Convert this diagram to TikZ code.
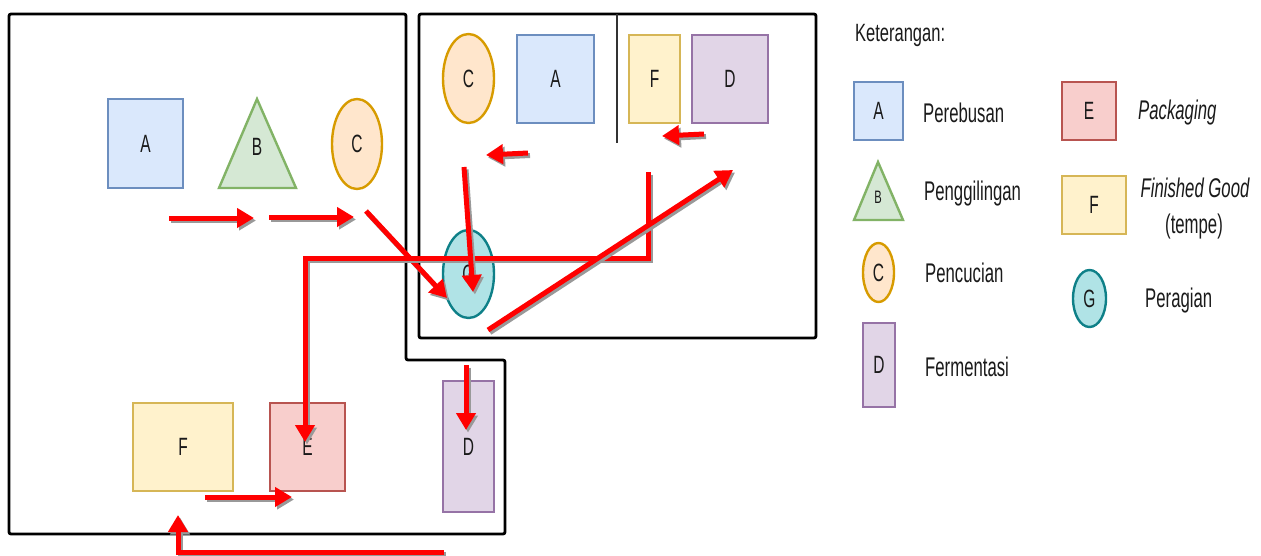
\documentclass[tikz,border=0pt]{standalone}
\usepackage{fontspec}
\setmainfont{Liberation Sans}
\usepackage{graphicx}
\usetikzlibrary{arrows.meta,shapes.geometric}

\definecolor{blueF}{HTML}{DAE8FC}\definecolor{blueD}{HTML}{6C8EBF}
\definecolor{greenF}{HTML}{D5E8D4}\definecolor{greenD}{HTML}{82B366}
\definecolor{orangeF}{HTML}{FFE6CC}\definecolor{orangeD}{HTML}{D79B00}
\definecolor{purpleF}{HTML}{E1D5E7}\definecolor{purpleD}{HTML}{9673A6}
\definecolor{redF}{HTML}{F8CECC}\definecolor{redD}{HTML}{B85450}
\definecolor{yellowF}{HTML}{FFF2CC}\definecolor{yellowD}{HTML}{D6B656}
\definecolor{tealF}{HTML}{B0E3E6}\definecolor{tealD}{HTML}{0E8088}
\definecolor{ink}{HTML}{1A1A1A}

% narrow text, as set in the drawing
\newcommand\nar[1]{\scalebox{0.62}[1]{#1}}
% a red flow arrow with its grey drop shadow
\newcommand\flw[1]{\begin{scope}[transform canvas={shift={(2pt,-2.5pt)}}]\draw[flowshade] #1;\end{scope}\draw[flow] #1;}

\begin{document}
\begin{tikzpicture}[x=1pt,y=-1pt,
  shp/.style={line width=2.4pt, inner sep=0pt, text=ink,
    font=\fontsize{25}{28}\selectfont},
  boxA/.style={shp, rectangle, fill=blueF, draw=blueD},
  boxD/.style={shp, rectangle, fill=purpleF, draw=purpleD},
  boxE/.style={shp, rectangle, fill=redF, draw=redD},
  boxF/.style={shp, rectangle, fill=yellowF, draw=yellowD},
  ovC/.style={shp, ellipse, fill=orangeF, draw=orangeD},
  ovG/.style={shp, ellipse, fill=tealF, draw=tealD},
  triB/.style={line width=2.4pt, fill=greenF, draw=greenD, line join=miter},
  tag/.style={inner sep=0pt, text=ink, font=\fontsize{25}{28}\selectfont},
  legtext/.style={inner sep=0pt, text=ink, font=\fontsize{27}{30}\selectfont},
  wall/.style={draw=black, line width=2.8pt, rounded corners=2pt},
  flow/.style={draw=red, line width=5pt,
    -{Triangle[length=17pt,width=19pt]}},
  flowshade/.style={draw=black!40, line width=5pt,
    -{Triangle[length=17pt,width=19pt]}},
]
\useasboundingbox (0,0) rectangle (1261,555);

% ---------- production areas ----------
\draw[wall] (9,14) -- (406,14) -- (406,360) -- (505,360) -- (505,534) -- (9,534) -- cycle;
\draw[wall] (419,14) rectangle (816,338);
\draw[black!80, line width=1.2pt] (617,14) -- (617,143);

% ---------- left area, upper row ----------
\node[boxA, minimum width=75pt, minimum height=89pt] (a1) at (145.5,143.5) {\nar{A}};
\draw[triB] (257,99) -- (296,188) -- (219,188) -- cycle;
\node[tag] (b1) at (257,147) {\nar{B}};
\node[ovC, minimum width=50pt, minimum height=90pt] (c1) at (357,144) {\nar{C}};

% ---------- right area ----------
\node[ovC, minimum width=51pt, minimum height=89pt] (c2) at (468.5,78.5) {\nar{C}};
\node[boxA, minimum width=77pt, minimum height=88pt] (a2) at (555.5,79) {\nar{A}};
\node[boxF, minimum width=51pt, minimum height=88pt] (f2) at (654.5,79) {\nar{F}};
\node[boxD, minimum width=76pt, minimum height=88pt] (d2) at (730,79) {\nar{D}};
\node[ovG, minimum width=51pt, minimum height=88pt] (g2) at (468.5,274) {\nar{G}};

% ---------- left area, lower row ----------
\node[boxF, minimum width=100pt, minimum height=88pt] (f3) at (183,447) {\nar{F}};
\node[boxE, minimum width=75pt, minimum height=88pt] (e3) at (307.5,447) {\nar{E}};
\node[boxD, minimum width=51pt, minimum height=131pt] (d3) at (468.5,446.5) {\nar{D}};

% ---------- flow arrows ----------
\coordinate (p1s) at (169,218); \coordinate (p1e) at (254,218);
\coordinate (p2s) at (269,217); \coordinate (p2e) at (354,217);
\coordinate (p3s) at (366,211); \coordinate (p3e) at (447,298);
\coordinate (p4s) at (464,167); \coordinate (p4e) at (473,292);
\coordinate (p5s) at (528,153); \coordinate (p5e) at (486,155);
\coordinate (p6s) at (704,134); \coordinate (p6e) at (662,136);
\coordinate (p7s) at (488,330); \coordinate (p7e) at (733,170);
\coordinate (p8s) at (648,172); \coordinate (p8b) at (648,258);
\coordinate (p8c) at (305,258); \coordinate (p8e) at (305,442);
\coordinate (p9s) at (466,365); \coordinate (p9e) at (466,430);
\coordinate (p10s) at (205,497); \coordinate (p10e) at (292,497);
\coordinate (p11s) at (444,552); \coordinate (p11b) at (178,552);
\coordinate (p11e) at (178,515);

\flw{(p1s) -- (p1e)}
\flw{(p2s) -- (p2e)}
\flw{(p3s) -- (p3e)}
\flw{(p8s) -- (p8b) -- (p8c) -- (p8e)}
\flw{(p4s) -- (p4e)}
\flw{(p5s) -- (p5e)}
\flw{(p6s) -- (p6e)}
\flw{(p7s) -- (p7e)}
\flw{(p9s) -- (p9e)}
\flw{(p10s) -- (p10e)}
\flw{(p11s) -- (p11b) -- (p11e)}

% ---------- legend ----------
\node[legtext, anchor=west, font=\fontsize{25}{28}\selectfont] (kt) at (855,35) {\scalebox{0.66}[1]{Keterangan:}};

\node[boxA, minimum width=49pt, minimum height=58pt] (la) at (878.5,111) {\nar{A}};
\node[legtext, anchor=west] (lat) at (923,113) {\nar{Perebusan}};

\draw[triB] (878,162) -- (903,220) -- (854,220) -- cycle;
\node[tag, font=\fontsize{18}{20}\selectfont] (lb) at (878,197) {\nar{B}};
\node[legtext, anchor=west] (lbt) at (924,194) {\nar{Penggilingan}};

\node[ovC, minimum width=31pt, minimum height=59pt] (lc) at (878.5,272.5) {\nar{C}};
\node[legtext, anchor=west] (lct) at (925,273) {\nar{Pencucian}};

\node[boxD, minimum width=32pt, minimum height=84pt] (ld) at (879,365) {\nar{D}};
\node[legtext, anchor=west] (ldt) at (925,367) {\nar{Fermentasi}};

\node[boxE, minimum width=54pt, minimum height=58pt] (le) at (1089,111) {\nar{E}};
\node[legtext, anchor=west] (let) at (1138,113) {\nar{\itshape Packaging}};

\node[boxF, minimum width=64pt, minimum height=58pt] (lf) at (1094,205) {\nar{F}};
\node[legtext] (lft) at (1195,188) {\nar{\itshape Finished Good}};
\node[legtext] (lft2) at (1194,227) {\nar{(tempe)}};

\node[ovG, minimum width=33pt, minimum height=57pt] (lg) at (1089.5,298.5) {\nar{G}};
\node[legtext, anchor=west] (lgt) at (1145,301) {\nar{Peragian}};
\end{tikzpicture}
\end{document}
